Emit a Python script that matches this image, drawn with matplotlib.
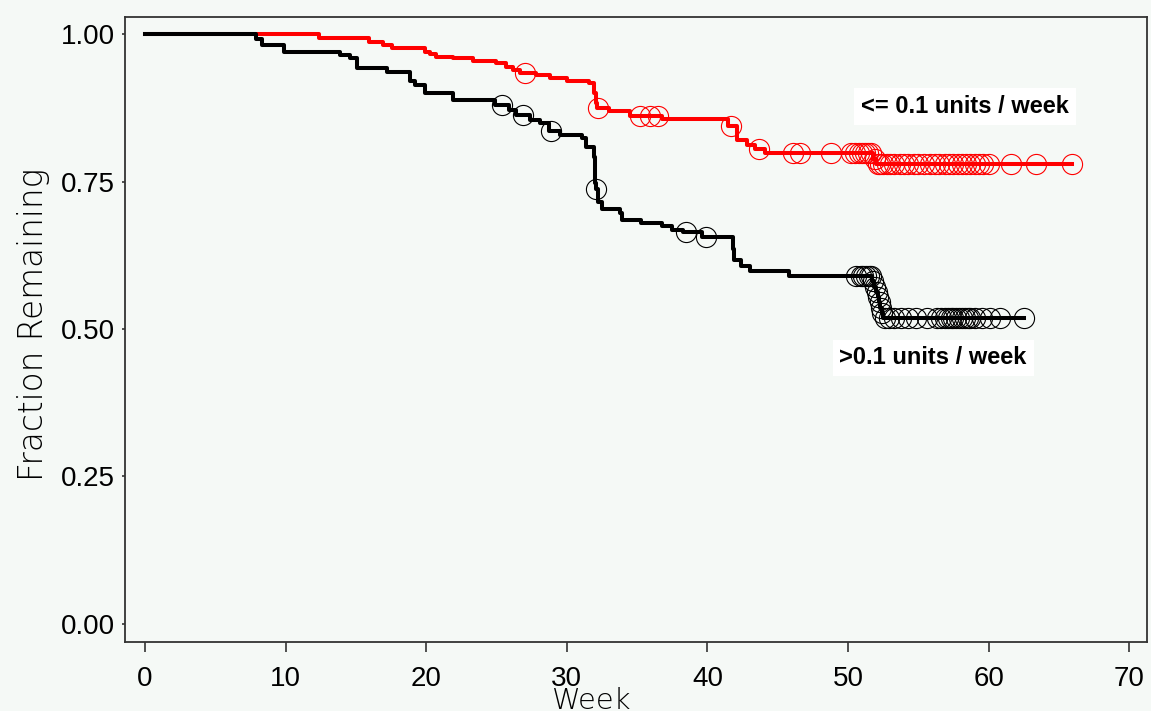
import numpy as np
import matplotlib
matplotlib.use('Agg')
import matplotlib.pyplot as plt

# step points (week, fraction remaining after the step)
low_t = [0, 12.4, 15.9, 16.9, 17.6, 19.9, 20.3, 20.7, 21.9, 23.3, 25.0, 25.7, 26.2,
	26.7, 27.8, 28.8, 30.0, 31.6, 31.9, 32.1, 32.15, 33.0, 34.5, 36.8, 41.5, 42.1,
	42.8, 43.4, 44.1, 51.8, 52.0, 65.9]
low_s = [1.0, 0.993, 0.987, 0.982, 0.976, 0.969, 0.966, 0.962, 0.959, 0.954, 0.951,
	0.945, 0.939, 0.934, 0.931, 0.925, 0.920, 0.917, 0.900, 0.883, 0.875, 0.869,
	0.862, 0.856, 0.844, 0.821, 0.812, 0.806, 0.799, 0.789, 0.779, 0.779]
low_cens = [27.0, 32.2, 35.2, 35.9, 36.5, 41.7, 43.7, 46.1, 46.6, 48.8, 50.2, 50.5,
	50.8, 51.0, 51.2, 51.4, 51.6, 51.9, 52.1, 52.3, 52.5, 52.8, 53.0, 53.3, 53.7,
	54.0, 54.3, 54.7, 55.0, 55.4, 55.8, 56.2, 56.5, 56.9, 57.2, 57.5, 57.8, 58.1,
	58.4, 58.7, 59.0, 59.3, 59.6, 60.0, 61.6, 63.4, 65.9]

high_t = [0, 7.9, 8.3, 9.9, 13.9, 14.6, 15.05, 17.2, 18.85, 19.2, 19.9, 21.9, 24.9,
	25.9, 26.4, 27.4, 28.1, 28.7, 29.5, 31.1, 31.4, 31.9, 32.0, 32.05, 32.2, 32.5,
	33.8, 33.9, 35.3, 36.8, 37.5, 38.3, 39.6, 41.8, 41.9, 42.4, 43.0, 45.8, 51.7,
	51.85, 52.0, 52.1, 52.2, 52.3, 52.4, 52.5, 62.5]
high_s = [1.0, 0.991, 0.982, 0.970, 0.965, 0.959, 0.942, 0.936, 0.920, 0.914, 0.900,
	0.889, 0.880, 0.872, 0.863, 0.855, 0.850, 0.835, 0.829, 0.824, 0.809, 0.792,
	0.748, 0.737, 0.715, 0.703, 0.697, 0.685, 0.680, 0.674, 0.668, 0.664, 0.656,
	0.636, 0.617, 0.606, 0.598, 0.590, 0.581, 0.572, 0.563, 0.554, 0.545, 0.536,
	0.527, 0.519, 0.519]
high_cens = [25.4, 26.9, 28.9, 32.1, 38.5, 39.9, 50.6, 50.9, 51.1, 51.3, 51.5, 51.6,
	51.75, 51.9, 52.05, 52.15, 52.25, 52.35, 52.45, 52.6, 52.9, 53.3, 53.8, 54.3,
	54.8, 55.6, 56.3, 56.6, 56.9, 57.1, 57.3, 57.5, 57.7, 57.9, 58.1, 58.3, 58.5,
	58.7, 59.0, 59.5, 60.1, 60.8, 62.5]

x_ticks = [0, 10, 20, 30, 40, 50, 60, 70]
y_ticks = [0.0, 0.25, 0.50, 0.75, 1.0]
y_tick_labels = ['0.00', '0.25', '0.50', '0.75', '1.00']

bg = '#f5f9f6'


# value of the step curve at each censoring time
def at(t, s, cens):
	t = np.array(t)
	s = np.array(s)
	idx = np.searchsorted(t, cens, side='right') - 1
	return s[idx]


def main():
	fig = plt.figure(figsize=(11.51, 7.11), dpi=100, facecolor=bg)
	ax = fig.add_axes([0.1086, 0.097, 0.888, 0.879], facecolor=bg)

	ax.step(low_t, low_s, where='post', color='#ff0000', lw=2.9, zorder=3)
	ax.plot(low_cens, at(low_t, low_s, low_cens), 'o', ms=14.5, mfc='none',
		mec='#ff0000', mew=0.8, zorder=4)
	ax.step(high_t, high_s, where='post', color='black', lw=2.9, zorder=3)
	ax.plot(high_cens, at(high_t, high_s, high_cens), 'o', ms=14.5, mfc='none',
		mec='black', mew=0.8, zorder=4)

	ax.text(58.3, 0.877, '<= 0.1 units / week', fontsize=17, fontweight='bold',
		family='Liberation Sans', ha='center', va='center',
		bbox=dict(facecolor='white', edgecolor='none', pad=5), zorder=5)
	ax.text(56.05, 0.451, '>0.1 units / week', fontsize=17, fontweight='bold',
		family='Liberation Sans', ha='center', va='center',
		bbox=dict(facecolor='white', edgecolor='none', pad=5), zorder=5)

	ax.set_xlim(-1.42, 71.27)
	ax.set_ylim(-0.031, 1.029)
	ax.set_xticks(x_ticks)
	ax.set_yticks(y_ticks)
	ax.set_yticklabels(y_tick_labels)
	for lab in ax.get_xticklabels() + ax.get_yticklabels():
		lab.set_family('Liberation Sans')
		lab.set_fontsize(20)
	ax.tick_params(axis='x', direction='out', length=7, width=1.2, pad=10, color='#333333')
	ax.tick_params(axis='y', direction='out', length=2.5, width=1.2, pad=5, color='#333333')
	for sp in ax.spines.values():
		sp.set_color('#333333')
		sp.set_linewidth(1.3)

	ax.set_xlabel('Week', fontsize=21, fontweight='light', va='top', color='black')
	ax.xaxis.set_label_coords(0.457, -0.072)
	ax.set_ylabel('Fraction Remaining', fontsize=23.5, fontweight='light', va='center',
		color='black')
	ax.yaxis.set_label_coords(-0.09, 0.509)

	fig.savefig('out.png', dpi=100, facecolor=bg)


if __name__ == '__main__':
	main()
